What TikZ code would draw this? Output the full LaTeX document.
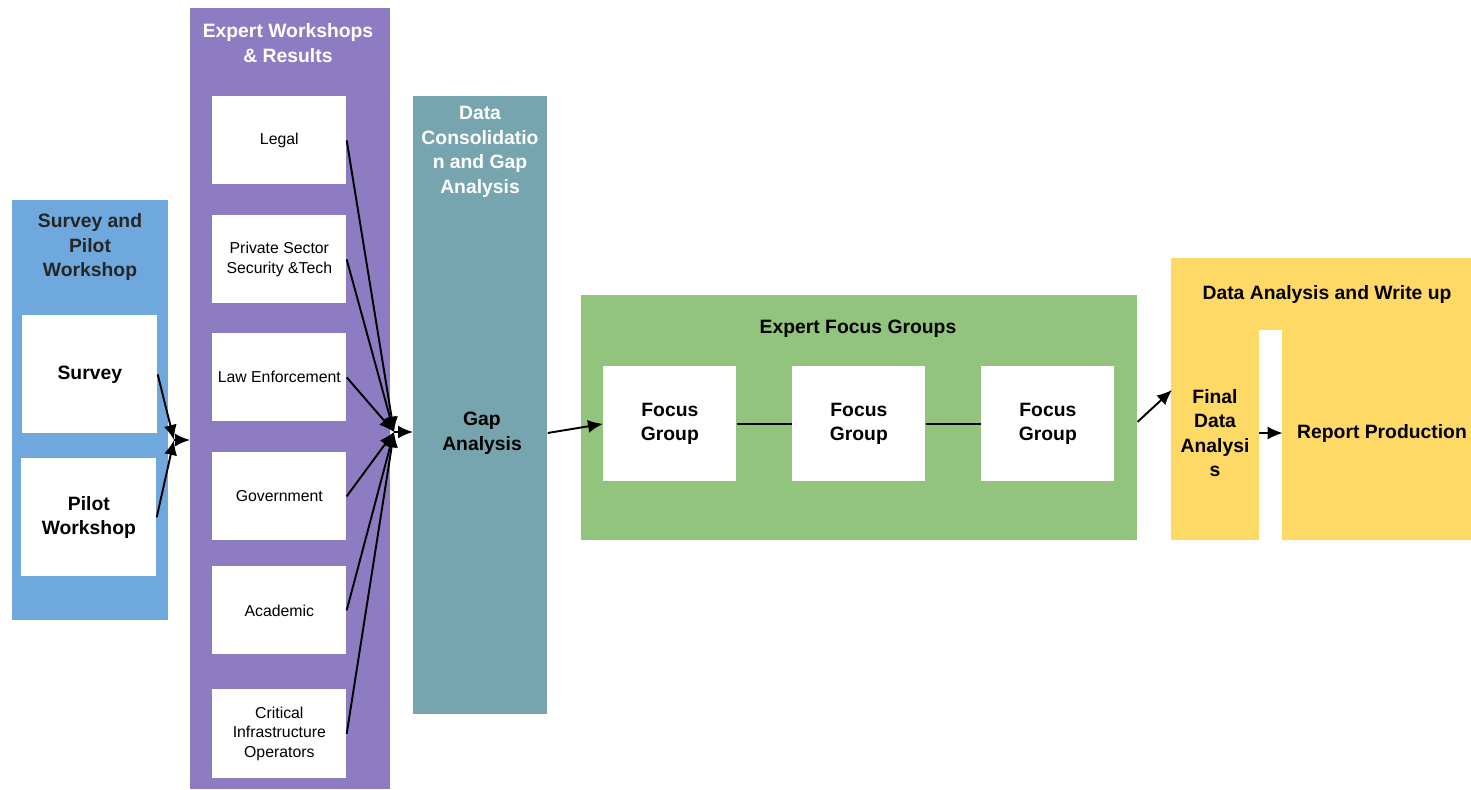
\documentclass[tikz,border=0pt]{standalone}
\usepackage{fontspec}
\setmainfont{Liberation Sans}
\usetikzlibrary{arrows.meta,positioning}

\definecolor{survblue}{HTML}{6FA8DC}
\definecolor{expurple}{HTML}{8E7CC3}
\definecolor{gapteal}{HTML}{76A5AF}
\definecolor{fggreen}{HTML}{93C47D}
\definecolor{wryellow}{HTML}{FFD966}

\begin{document}
\begin{tikzpicture}[
		x=0.02cm, y=-0.02cm,
		arrow/.style={-{Latex[length=3mm,width=2.6mm]}, line width=1.1pt},
		column/.style={anchor=north west, inner sep=0pt},
		whitebox/.style={anchor=north west, fill=white, inner sep=0pt},
		coltitle/.style={align=center, font=\fontsize{11}{14}\selectfont\bfseries},
		bigtext/.style={align=center, font=\fontsize{11}{14}\selectfont\bfseries},
		smalltext/.style={align=center, font=\fontsize{9}{11}\selectfont},
	]
		\useasboundingbox (0,0) rectangle (1471,789);

		% survey and pilot workshop
		\node (survcol) [column, fill=survblue, minimum width=3.12cm, minimum height=8.4cm] at (12,200) {};
		\node (survtitle) [coltitle, text=black!85] at (90,247) {Survey and\\Pilot\\Workshop};
		\node (survey) [whitebox, minimum width=2.7cm, minimum height=2.36cm] at (22,315) {};
		\node [bigtext] at (survey.center) {Survey};
		\node (pilot) [whitebox, minimum width=2.7cm, minimum height=2.36cm] at (21,458) {};
		\node [bigtext] at (pilot.center) {Pilot\\Workshop};

		% expert workshops
		\node (expcol) [column, fill=expurple, minimum width=4cm, minimum height=15.62cm] at (190,8) {};
		\node (exptitle) [coltitle, text=white] at (288,43) {Expert Workshops\\\& Results};
		\node (legal) [whitebox, minimum width=2.68cm, minimum height=1.76cm] at (212,96) {};
		\node [smalltext] at (legal.center) {Legal};
		\node (private) [whitebox, minimum width=2.68cm, minimum height=1.76cm] at (212,215) {};
		\node [smalltext] at (private.center) {Private Sector\\Security \&Tech};
		\node (law) [whitebox, minimum width=2.68cm, minimum height=1.76cm] at (212,333) {};
		\node [smalltext] at (law.center) {Law Enforcement};
		\node (gov) [whitebox, minimum width=2.68cm, minimum height=1.76cm] at (212,452) {};
		\node [smalltext] at (gov.center) {Government};
		\node (acad) [whitebox, minimum width=2.68cm, minimum height=1.76cm] at (212,566) {};
		\node [smalltext] at (acad.center) {Academic};
		\node (crit) [whitebox, minimum width=2.68cm, minimum height=1.78cm] at (212,689) {};
		\node [smalltext] at (crit.center) {Critical\\Infrastructure\\Operators};

		% data consolidation
		\node (gapcol) [column, fill=gapteal, minimum width=2.68cm, minimum height=12.36cm] at (413,96) {};
		\node (gaptitle) [coltitle, text=white] at (480,152) {Data\\Consolidatio\\n and Gap\\Analysis};
		\node (gap) [bigtext] at (482,433) {Gap\\Analysis};

		% focus groups
		\node (fgcol) [column, fill=fggreen, minimum width=11.12cm, minimum height=4.9cm] at (581,295) {};
		\node (fgtitle) [coltitle] at (858,329) {Expert Focus Groups};
		\node (fg1) [whitebox, minimum width=2.66cm, minimum height=2.3cm] at (603,366) {};
		\node [bigtext] at (fg1.center) {Focus\\Group};
		\node (fg2) [whitebox, minimum width=2.66cm, minimum height=2.3cm] at (792,366) {};
		\node [bigtext] at (fg2.center) {Focus\\Group};
		\node (fg3) [whitebox, minimum width=2.66cm, minimum height=2.3cm] at (981,366) {};
		\node [bigtext] at (fg3.center) {Focus\\Group};

		% analysis and write up
		\node (wrcol) [column, fill=wryellow, minimum width=6cm, minimum height=5.64cm] at (1171,258) {};
		\node (wrtitle) [coltitle] at (1327,294) {Data Analysis and Write up};
		\node (strip) [whitebox, minimum width=0.46cm, minimum height=4.2cm] at (1259,330) {};
		\node (final) [bigtext] at (1215,433) {Final\\Data\\Analysi\\s};
		\node (report) [bigtext] at (1382,433) {Report Production};

		\coordinate (j1) at (174,440);
		\coordinate (j2) at (394,432);
		\coordinate (fin) at (1172,390);

		\draw[arrow] (survey.east) -- (j1);
		\draw[arrow] (pilot.east) -- (j1);
		\draw[arrow] (j1) -- (j1 -| expcol.west);
		\foreach \b in {legal,private,law,gov,acad,crit}
			\draw[arrow] (\b.east) -- (j2);
		\draw[arrow] (j2) -- (j2 -| gapcol.west);
		\draw[arrow] (gap -| gapcol.east) -- (fg1.west);
		\draw[line width=1.1pt] (fg1.east) -- (fg2.west);
		\draw[line width=1.1pt] (fg2.east) -- (fg3.west);
		\draw[arrow] ([yshift=-0.08cm]fgcol.east) -- (fin);
		\draw[arrow] (strip.west |- report) -- (strip.east |- report);
	\end{tikzpicture}
\end{document}
